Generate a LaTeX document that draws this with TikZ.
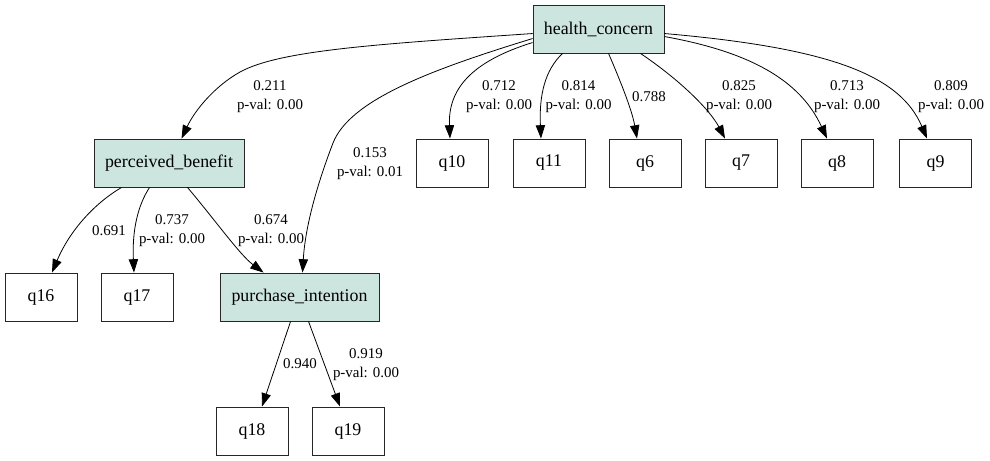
\documentclass[tikz,border=0pt]{standalone}
\usepackage{fontspec}
\setmainfont{Liberation Serif}
\usetikzlibrary{arrows.meta,calc}
\definecolor{latfill}{RGB}{204,229,222}
\begin{document}
\begin{tikzpicture}[x=0.75pt,y=-0.75pt,
  obs/.style={draw=black!85,line width=0.7pt,minimum width=54pt,minimum height=36pt,inner sep=0pt,font=\fontsize{13.4}{15}\selectfont},
  lat/.style={obs,fill=latfill},
  lbl/.style={inner sep=0pt,align=center,font=\fontsize{11.2}{14.25}\selectfont},
  edge/.style={draw=black,line width=0.6pt,-{Triangle[length=10pt,width=7pt]}}]
\useasboundingbox (0,0) rectangle (990,461);
% nodes
\node[lat,minimum width=98.25pt] (hc) at (598.5,29) {health\_concern};
\node[lat,minimum width=112.5pt] (pb) at (169,163) {perceived\_benefit};
\node[lat,minimum width=119.25pt] (pi) at (299.5,297) {purchase\_intention};
\node[obs] (q10) at (452,163) {q10};
\node[obs] (q11) at (549,163) {q11};
\node[obs] (q6) at (645,163) {q6};
\node[obs] (q7) at (741,163) {q7};
\node[obs] (q8) at (837,163) {q8};
\node[obs] (q9) at (935.5,163) {q9};
\node[obs] (q16) at (41,297) {q16};
\node[obs] (q17) at (137,297) {q17};
\node[obs] (q18) at (252,431) {q18};
\node[obs] (q19) at (348,431) {q19};
% edges
\draw[edge] ($(hc.north west)+(0,29)$) .. controls (380,44) and (280,50) .. (240,72) .. controls (215,86) and (195,110) .. ($(pb.north west)+(88,0)$);
\draw[edge] ($(hc.north west)+(0,34)$) .. controls (430,70) and (350,100) .. (333,143) .. controls (315,190) and (305,230) .. ($(pi.north west)+(83,0)$);
\draw[edge] ($(hc.north west)+(0,38)$) .. controls (470,62) and (448,90) .. ($(q10.north)+(-2,0)$);
\draw[edge] ($(hc.south west)+(30,0)$) .. controls (545,70) and (539,95) .. ($(q11.north)+(-8,0)$);
\draw[edge] ($(hc.south west)+(76,0)$) .. controls (620,80) and (632,110) .. ($(q6.north)+(-8,0)$);
\draw[edge] ($(hc.south west)+(108,0)$) .. controls (680,80) and (710,110) .. ($(q7.north)+(-16,0)$);
\draw[edge] ($(hc.north east)+(0,32)$) .. controls (750,52) and (800,80) .. ($(q8.north)+(-10,0)$);
\draw[edge] ($(hc.north east)+(0,29)$) .. controls (830,48) and (900,75) .. ($(q9.north)+(-8.5,0)$);
\draw[edge] ($(pb.south west)+(28,0)$) .. controls (95,203) and (70,230) .. ($(q16.north)+(11,0)$);
\draw[edge] ($(pb.south west)+(56,0)$) .. controls (138,205) and (132,230) .. ($(q17.north)+(-3,0)$);
\draw[edge] ($(pb.south west)+(94,0)$) .. controls (215,220) and (240,255) .. ($(pi.north west)+(44,0)$);
\draw[edge] ($(pi.south west)+(71,0)$) -- ($(q18.north)+(10,0)$);
\draw[edge] ($(pi.south west)+(89,0)$) -- ($(q19.north)+(-8,0)$);
% labels
\node[lbl] (l1) at (270,96.5) {0.211\\p-val: 0.00};
\node[lbl] (l2) at (370,163.5) {0.153\\p-val: 0.01};
\node[lbl] (l3) at (499,96.5) {0.712\\p-val: 0.00};
\node[lbl] (l4) at (578.5,96.5) {0.814\\p-val: 0.00};
\node[lbl] (l5) at (649,97) {0.788};
\node[lbl] (l6) at (739,96.5) {0.825\\p-val: 0.00};
\node[lbl] (l7) at (847,96.5) {0.713\\p-val: 0.00};
\node[lbl] (l8) at (951,96.5) {0.809\\p-val: 0.00};
\node[lbl] (l9) at (109,231) {0.691};
\node[lbl] (l10) at (172,230.5) {0.737\\p-val: 0.00};
\node[lbl] (l11) at (271,230.5) {0.674\\p-val: 0.00};
\node[lbl] (l12) at (300,364) {0.940};
\node[lbl] (l13) at (366,364.5) {0.919\\p-val: 0.00};
\end{tikzpicture}
\end{document}
